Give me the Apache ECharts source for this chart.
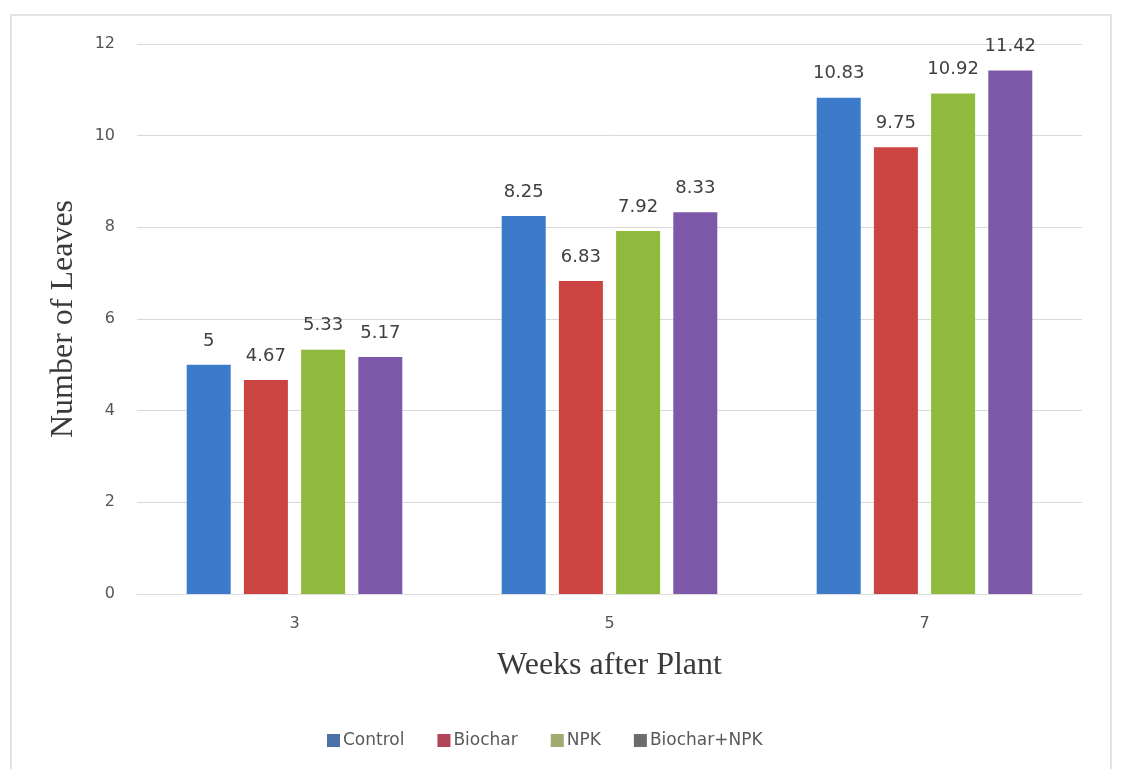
<!DOCTYPE html>
<html>
<head>
<meta charset="utf-8">
<script src="https://cdn.jsdelivr.net/npm/echarts@6/dist/echarts.min.js"></script>
<style>
  html, body { margin: 0; padding: 0; background: #ffffff; }
  #chart { width: 1122px; height: 769px; }
</style>
</head>
<body>
<div id="chart"></div>
<script>
// Weeks after planting (category axis)
const weeks = ['3', '5', '7'];

// Mean number of leaves per treatment
const control = [5, 8.25, 10.83];
const biochar = [4.67, 6.83, 9.75];
const npk = [5.33, 7.92, 10.92];
const biocharNpk = [5.17, 8.33, 11.42];

const seriesNames = ['Control', 'Biochar', 'NPK', 'Biochar+NPK'];
const barColors = ['#3c7bc9', '#cc4442', '#8fba3e', '#7e58a8'];
const legendColors = ['#4a72a6', '#b04458', '#a3aa70', '#6c6c6c'];

const yTicks = { min: 0, max: 12, interval: 2 };

const chart = echarts.init(document.getElementById('chart'), null, { renderer: 'canvas' });

const seriesData = [control, biochar, npk, biocharNpk];

chart.setOption({
  backgroundColor: '#ffffff',
  animation: false,
  graphic: [{
    type: 'rect',
    shape: { x: 11, y: 15, width: 1100, height: 760 },
    style: { fill: 'none', stroke: '#e2e2e2', lineWidth: 2 },
    silent: true
  }],
  grid: { left: 137, right: 40, top: 44, bottom: 175 },
  legend: {
    top: 727,
    left: 322,
    itemWidth: 13,
    itemHeight: 13,
    itemGap: 33,
    icon: 'rect',
    textStyle: { fontFamily: 'DejaVu Sans, sans-serif', fontSize: 17, color: '#595959', padding: [0, 0, 0, -2] },
    data: seriesNames.map((n, i) => ({ name: n, itemStyle: { color: legendColors[i] } }))
  },
  xAxis: {
    type: 'category',
    data: weeks,
    name: 'Weeks after Plant',
    nameLocation: 'middle',
    nameGap: 56,
    nameTextStyle: { fontFamily: 'Liberation Serif, serif', fontSize: 32, color: '#3a3a3a' },
    axisLine: { show: true, lineStyle: { color: '#dcdcdc' } },
    axisTick: { show: false },
    axisLabel: { fontFamily: 'DejaVu Sans, sans-serif', fontSize: 16, color: '#555555', margin: 22 }
  },
  yAxis: {
    type: 'value',
    min: yTicks.min,
    max: yTicks.max,
    interval: yTicks.interval,
    name: 'Number of Leaves',
    nameLocation: 'middle',
    nameGap: 57,
    nameTextStyle: { fontFamily: 'Liberation Serif, serif', fontSize: 32, color: '#3a3a3a' },
    axisLine: { show: false },
    axisTick: { show: false },
    axisLabel: { fontFamily: 'DejaVu Sans, sans-serif', fontSize: 16, color: '#555555', margin: 22 },
    splitLine: { lineStyle: { color: '#d9d9d9', width: 1 } }
  },
  series: seriesNames.map((n, i) => ({
    name: n,
    type: 'bar',
    data: seriesData[i],
    barWidth: 44,
    barGap: '30%',
    itemStyle: { color: barColors[i] },
    label: {
      show: true,
      position: 'top',
      distance: 15,
      fontFamily: 'DejaVu Sans, sans-serif',
      fontSize: 18,
      color: '#404040'
    }
  }))
});
</script>
</body>
</html>
